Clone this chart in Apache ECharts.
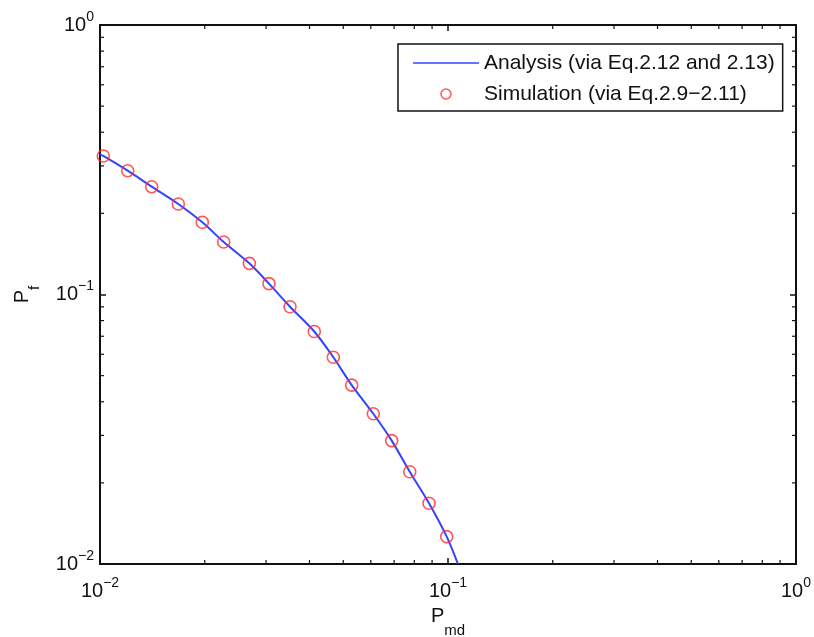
<!DOCTYPE html>
<html>
<head>
<meta charset="utf-8">
<script src="https://cdn.jsdelivr.net/npm/echarts@6/dist/echarts.min.js"></script>
<style>
html,body{margin:0;padding:0;background:#fff;}
#c{width:814px;height:637px;}
</style>
</head>
<body>
<div id="c"></div>
<script>
// ---- data ----
var simX = [0.01022, 0.01201, 0.01408, 0.01679, 0.01968, 0.02267, 0.02686, 0.03059, 0.03516,
            0.04128, 0.04683, 0.05288, 0.06101, 0.06890, 0.07763, 0.08819, 0.09915];
var simY = [0.3266, 0.2880, 0.2512, 0.2167, 0.1853, 0.1566, 0.1305, 0.1097, 0.0901,
            0.0729, 0.0585, 0.0461, 0.0361, 0.0287, 0.0220, 0.0168, 0.01263];
var anaX = [0.0100, 0.01022, 0.01201, 0.01408, 0.01679, 0.01968, 0.02267, 0.02686, 0.03059, 0.03516,
            0.04128, 0.04683, 0.05288, 0.06101, 0.06890, 0.07763, 0.08819, 0.09915, 0.1068];
var anaY = [0.331, 0.3266, 0.2880, 0.2512, 0.2167, 0.1853, 0.1566, 0.1305, 0.1097, 0.0901,
            0.0729, 0.0585, 0.0461, 0.0361, 0.0287, 0.0220, 0.0168, 0.01263, 0.0100];
var seriesNames = ['Analysis (via Eq.2.12 and 2.13)', 'Simulation (via Eq.2.9\u22122.11)'];
var minorTickValues = [0.02,0.03,0.04,0.05,0.06,0.07,0.08,0.09,0.2,0.3,0.4,0.5,0.6,0.7,0.8,0.9];
var axisMin = 0.01, axisMax = 1;

var FONT = 'Liberation Sans';
var INK = '#111';
var BLUE = '#3344ff';
var RED = '#ff2d2d';

function zip(a, b) { return a.map(function (v, i) { return [v, b[i]]; }); }

function expLabel(value) {
  var e = Math.round(Math.log(value) / Math.LN10);
  var s = e < 0 ? '\u2212' + (-e) : '' + e;
  return '{b|10}{s|' + s + '}';
}
var labelRich = {
  b: { fontSize: 20, fontFamily: FONT, color: INK, lineHeight: 30 },
  s: { fontSize: 14, fontFamily: FONT, color: INK, lineHeight: 12, verticalAlign: 'top' }
};

function baseAxis(extra) {
  var a = {
    type: 'log', logBase: 10, min: axisMin, max: axisMax,
    splitLine: { show: false },
    axisLine: { show: true, lineStyle: { color: INK, width: 2 } },
    axisTick: { show: true, inside: true, length: 6, lineStyle: { color: INK, width: 1.5 } },
    axisLabel: { show: false }
  };
  for (var k in extra) a[k] = extra[k];
  return a;
}

var chart = echarts.init(document.getElementById('c'), null, { renderer: 'canvas' });

var option = {
  backgroundColor: '#fff',
  animation: false,
  grid: { left: 100, right: 18, top: 25, bottom: 73, containLabel: false, outerBoundsMode: 'none' },
  legend: {
    orient: 'vertical', left: 398, top: 44,
    padding: [7, 8, 5, 15],
    itemGap: 7, itemWidth: 66, itemHeight: 10,
    symbolKeepAspect: true,
    backgroundColor: '#fff', borderColor: INK, borderWidth: 1.5,
    textStyle: { fontSize: 21, fontFamily: FONT, color: INK, lineHeight: 24 },
    data: [
      { name: seriesNames[0], icon: 'path://M0,0H100V2H0Z' },
      { name: seriesNames[1], icon: 'circle', itemStyle: { color: 'rgba(255,255,255,0)', borderColor: RED, borderWidth: 1.5 } }
    ]
  },
  xAxis: [
    baseAxis({
      position: 'bottom',
      axisLabel: { show: true, margin: 12, formatter: expLabel, rich: labelRich },
      name: '{P|P}{m|md}', nameLocation: 'middle', nameGap: 30,
      nameTextStyle: { rich: {
        P: { fontSize: 20, fontFamily: FONT, color: INK, lineHeight: 44 },
        m: { fontSize: 15, fontFamily: FONT, color: INK, lineHeight: 15, verticalAlign: 'bottom' }
      } }
    }),
    baseAxis({ position: 'top' })
  ],
  yAxis: [
    baseAxis({
      position: 'left',
      axisLabel: { show: true, margin: 6, formatter: expLabel, rich: labelRich },
      name: '{P|P}{f|f}', nameLocation: 'middle', nameGap: 58,
      nameTextStyle: { rich: {
        P: { fontSize: 20, fontFamily: FONT, color: INK, lineHeight: 40 },
        f: { fontSize: 15, fontFamily: FONT, color: INK, lineHeight: 17, verticalAlign: 'bottom' }
      } }
    }),
    baseAxis({ position: 'right' })
  ],
  series: [
    {
      name: seriesNames[0], type: 'line', xAxisIndex: 0, yAxisIndex: 0,
      data: zip(anaX, anaY), symbol: 'none', smooth: 0.3,
      lineStyle: { color: BLUE, width: 2 }, itemStyle: { color: BLUE }, z: 3
    },
    {
      name: seriesNames[1], type: 'scatter', xAxisIndex: 0, yAxisIndex: 0,
      data: zip(simX, simY), symbol: 'circle', symbolSize: 12,
      itemStyle: { color: 'rgba(255,255,255,0)', borderColor: RED, borderWidth: 1.6 }, z: 4
    },
    {
      name: 'xminor', type: 'custom', xAxisIndex: 0, yAxisIndex: 0, silent: true, z: 5,
      data: minorTickValues.map(function (v) { return [v, axisMin]; }),
      renderItem: function (params, api) {
        var v = api.value(0);
        var b = api.coord([v, axisMin]);
        var t = api.coord([v, axisMax]);
        var st = { stroke: INK, lineWidth: 1.2 };
        return { type: 'group', children: [
          { type: 'line', shape: { x1: b[0], y1: b[1], x2: b[0], y2: b[1] - 4 }, style: st },
          { type: 'line', shape: { x1: t[0], y1: t[1], x2: t[0], y2: t[1] + 4 }, style: st }
        ] };
      }
    },
    {
      name: 'yminor', type: 'custom', xAxisIndex: 0, yAxisIndex: 0, silent: true, z: 5,
      data: minorTickValues.map(function (v) { return [axisMin, v]; }),
      renderItem: function (params, api) {
        var v = api.value(1);
        var l = api.coord([axisMin, v]);
        var r = api.coord([axisMax, v]);
        var st = { stroke: INK, lineWidth: 1.2 };
        return { type: 'group', children: [
          { type: 'line', shape: { x1: l[0], y1: l[1], x2: l[0] + 4, y2: l[1] }, style: st },
          { type: 'line', shape: { x1: r[0], y1: r[1], x2: r[0] - 4, y2: r[1] }, style: st }
        ] };
      }
    }
  ]
};
chart.setOption(option);
</script>
</body>
</html>
